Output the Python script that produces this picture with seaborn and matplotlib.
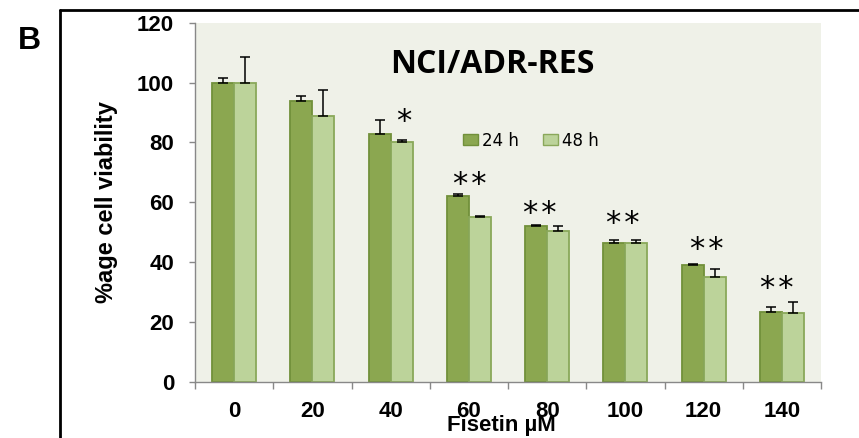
import matplotlib
matplotlib.use("Agg")
import matplotlib.pyplot as plt
from matplotlib.lines import Line2D
import seaborn as sns
import pandas as pd
import numpy as np

doses = ["0", "20", "40", "60", "80", "100", "120", "140"]
v24 = [100, 94, 83, 62, 52, 46.5, 39, 23.5]
v48 = [100, 89, 80, 55, 50.5, 46.5, 35, 23]
e24 = [1.4, 1.4, 4.4, 0.9, 0.4, 0.9, 0.4, 1.4]
e48 = [8.7, 8.4, 0.8, 0.5, 1.5, 0.8, 2.6, 3.6]
series = ["24 h", "48 h"]
stars = ["", "", "*", "**", "**", "**", "**", "**"]
star_y = [0, 0, 88.5, 67.6, 57.8, 54.4, 45.8, 32.7]
star_x_off = [0, 0, 0.17, 0.01, -0.09, -0.03, 0.04, -0.06]

df = pd.DataFrame({
    "dose": doses * 2,
    "value": v24 + v48,
    "time": [series[0]] * len(doses) + [series[1]] * len(doses),
})

sns.set_theme(style="white")
plt.rcParams["font.family"] = ["Liberation Sans", "DejaVu Sans"]
plt.rcParams["text.color"] = "black"
plt.rcParams["axes.labelcolor"] = "black"
plt.rcParams["xtick.labelcolor"] = "black"
plt.rcParams["ytick.labelcolor"] = "black"

fig = plt.figure(figsize=(8.59, 4.38), dpi=100)
ax = fig.add_axes([0.2270, 0.1279, 0.7288, 0.8202])
ax.set_facecolor("#EFF1E8")

c24, c48 = "#8BA750", "#BCD39A"
sns.barplot(data=df, x="dose", y="value", hue="time", order=doses,
            hue_order=series, palette=[c24, c48], width=0.56, gap=0,
            errorbar=None, ax=ax, legend=True, saturation=1)

edges = ["#71903A", "#8AA85A"]
for cont, errs, ec in zip(ax.containers, [e24, e48], edges):
    xs, hs = [], []
    for p in cont.patches:
        p.set_edgecolor(ec)
        p.set_linewidth(1.3)
        xs.append(p.get_x() + p.get_width() / 2)
        hs.append(p.get_height())
    ax.errorbar(xs, hs, yerr=[np.zeros(len(errs)), errs], fmt="none",
                ecolor="black", elinewidth=1.1, capsize=3.6, capthick=1.1,
                zorder=1)

for i, s in enumerate(stars):
    if s:
        txt = "\u200a".join(s)
        ax.text(i + star_x_off[i], star_y[i] - 1.5, txt, ha="center",
                va="center", fontsize=22, family="DejaVu Sans",
                color="black")

ax.text(0.4756, 0.861, "NCI/ADR-RES", transform=ax.transAxes, ha="center",
        va="baseline", fontsize=23, fontweight="bold", family="Open Sans",
        color="black")

ax.set_ylim(0, 120)
ax.set_xlim(-0.5, 7.5)
ax.set_yticks(range(0, 121, 20))
ax.set_xticks(range(len(doses)))
ax.set_xticklabels(doses)
ax.set_xticks(np.arange(-0.5, 8, 1), minor=True)
ax.tick_params(axis="x", which="major", length=0, pad=14, labelsize=16,
               labelcolor="black")
ax.tick_params(axis="x", which="minor", length=5, width=1, color="#888888",
               direction="out", bottom=True)
ax.tick_params(axis="y", length=4.5, width=1, color="#888888",
               direction="out", left=True, pad=10.5, labelsize=16,
               labelcolor="black")
for lab in ax.get_xticklabels() + ax.get_yticklabels():
    lab.set_fontweight("bold")

for side in ["top", "right"]:
    ax.spines[side].set_visible(False)
for side in ["left", "bottom"]:
    ax.spines[side].set_color("#888888")
    ax.spines[side].set_linewidth(1)

ax.set_xlabel("Fisetin µM", fontsize=16, fontweight="bold", color="black")
ax.xaxis.set_label_coords(0.49, -0.093)
ax.set_ylabel("%age cell viability", fontsize=17, fontweight="bold",
              color="black")
ax.yaxis.set_label_coords(-0.123, 0.5)

leg = ax.legend(loc="center", bbox_to_anchor=(0.536, 0.672), ncol=2,
                frameon=False, prop={"family": "DejaVu Sans", "size": 12},
                handlelength=0.9, handleheight=0.68, handletextpad=0.25,
                columnspacing=1.44, borderpad=0)
for t in leg.get_texts():
    t.set_color("black")
for h, ec in zip(leg.legend_handles, edges):
    h.set_edgecolor(ec)
    h.set_linewidth(1)

fig.text(0.0338, 0.888, "B", fontsize=23, fontweight="bold", ha="center",
         va="baseline", color="black")
fig.add_artist(Line2D([0.0693, 1.0], [0.978, 0.978], transform=fig.transFigure,
                      color="black", lw=2))
fig.add_artist(Line2D([0.0693, 0.0693], [0.0, 0.978],
                      transform=fig.transFigure, color="black", lw=2))

fig.savefig("out.png", dpi=100)
